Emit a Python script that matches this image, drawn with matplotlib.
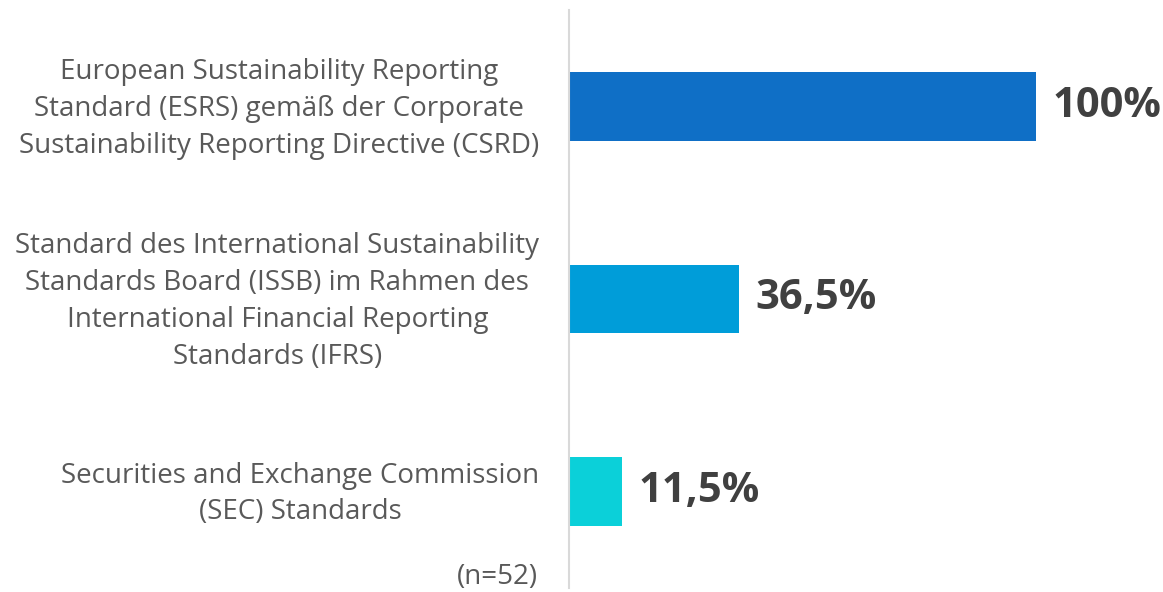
import matplotlib.pyplot as plt
import matplotlib.transforms as mtransforms

# data
categories = [
    "European Sustainability Reporting\nStandard (ESRS) gemäß der Corporate\nSustainability Reporting Directive (CSRD)",
    "Standard des International Sustainability\nStandards Board (ISSB) im Rahmen des\nInternational Financial Reporting\nStandards (IFRS)",
    "Securities and Exchange Commission\n(SEC) Standards",
]
values = [100, 36.5, 11.5]
value_labels = ["100%", "36,5%", "11,5%"]
colors = ["#0F6FC6", "#009DD9", "#0BD0D9"]
note = "(n=52)"

plt.rcParams['font.family'] = ['Open Sans', 'DejaVu Sans']

W, H = 1163, 592
fig = plt.figure(figsize=(W / 100, H / 100), dpi=100)
ax = fig.add_axes([568.5 / W, 1 - 588 / H, (1036 - 568.5) / W, 578 / H])

ypos = list(range(len(values)))
ax.barh(ypos, values, height=0.357, color=colors)
ax.set_xlim(0, 100)
ax.set_ylim(2.5, -0.5)

for y, v, lab in zip(ypos, values, value_labels):
    ax.annotate(lab, (v, y), xytext=(12, 0), textcoords='offset points',
                va='center', ha='left', fontsize=30, fontweight='bold',
                color='#404040', annotation_clip=False)

ax.set_yticks(ypos)
ax.set_yticklabels(categories, fontsize=20, color='#595959',
                   multialignment='center', linespacing=1.42)
ax.tick_params(axis='y', length=0, pad=21)
ax.set_xticks([])
# nudge labels up a little so they sit centred on the bars
shift = mtransforms.ScaledTranslation(0, 4 / 72, fig.dpi_scale_trans)
for t in ax.get_yticklabels():
    t.set_transform(t.get_transform() + shift)

for s in ['top', 'right', 'bottom']:
    ax.spines[s].set_visible(False)
ax.spines['left'].set_color('#D9D9D9')
ax.spines['left'].set_linewidth(1.5)

fig.text(538 / W, 1 - 577 / H, note, ha='right', va='center',
         fontsize=20, color='#595959')

fig.savefig('out.png', dpi=100)
